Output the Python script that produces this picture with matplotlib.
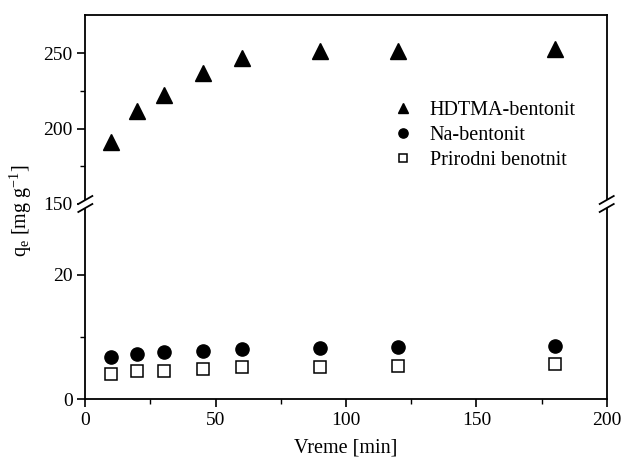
#!/usr/bin/env python3

# kinetika adsorpcije: qe u funkciji vremena, prekinuta y osa

import matplotlib
matplotlib.use('Agg')
import matplotlib.pyplot as plt
from matplotlib.lines import Line2D
from matplotlib.patches import Polygon

# data
vreme = [10, 20, 30, 45, 60, 90, 120, 180]
hdtma = [191, 211.5, 222, 237, 246.5, 251.5, 251.5, 253]
na_bent = [6.7, 7.25, 7.6, 7.75, 8.0, 8.3, 8.4, 8.6]
prirodni = [4.0, 4.5, 4.55, 4.8, 5.1, 5.1, 5.35, 5.6]

labels = ['HDTMA-bentonit', 'Na-bentonit', 'Prirodni benotnit']

plt.rcParams['font.family'] = ['Liberation Serif', 'DejaVu Serif']
plt.rcParams['mathtext.fontset'] = 'custom'
plt.rcParams['mathtext.rm'] = 'Liberation Serif'
plt.rcParams['mathtext.it'] = 'Liberation Serif'
plt.rcParams['font.size'] = 14

fig = plt.figure(figsize=(6.21, 4.63), dpi=100)

left, right = 0.1374, 0.977
bottom, brk, top = 0.1382, 0.5594, 0.9676

ax_lo = fig.add_axes([left, bottom, right - left, brk - bottom])
ax_hi = fig.add_axes([left, brk, right - left, top - brk])

# markers
h1, = ax_hi.plot(vreme, hdtma, '^', color='black', ms=11, ls='none')
h2, = ax_lo.plot(vreme, na_bent, 'o', color='black', ms=9.5, ls='none')
h3, = ax_lo.plot(vreme, prirodni, 's', mfc='white', mec='black', mew=1.1, ms=8, ls='none')

ax_lo.set_xlim(0, 200)
ax_hi.set_xlim(0, 200)
ax_lo.set_ylim(0, 31.45)
ax_hi.set_ylim(150, 275.2)

ax_lo.set_xticks([0, 50, 100, 150, 200])
ax_lo.set_xticks([25, 75, 125, 175], minor=True)
ax_lo.set_yticks([0, 20])
ax_lo.set_yticks([10], minor=True)
ax_hi.set_yticks([150, 200, 250])
ax_hi.set_yticks([175, 225], minor=True)
ax_hi.set_xticks([])

for ax in (ax_lo, ax_hi):
    for s in ax.spines.values():
        s.set_linewidth(1.3)
    ax.tick_params(which='major', direction='out', length=6, width=1.2, labelsize=14, pad=3)
    ax.tick_params(which='minor', direction='out', length=3.5, width=1.0)
    ax.tick_params(right=False, top=False)

ax_lo.spines['top'].set_visible(False)
ax_hi.spines['bottom'].set_visible(False)
ax_hi.tick_params(axis='x', which='both', bottom=False, labelbottom=False)

ax_lo.set_xlabel('Vreme [min]', fontsize=14.5, labelpad=7)
fig.text(0.034, 0.545, r'q$_\mathrm{e}$ [mg g$^{\mathrm{-1}}$]', rotation=90,
         ha='center', va='center', fontsize=14.5)

# legend
ax_hi.legend([h1, h2, h3], labels, loc='upper left', bbox_to_anchor=(0.57, 0.60),
             frameon=False, fontsize=14.5, handlelength=1.0, handletextpad=0.85,
             labelspacing=0.3, markerscale=0.7, borderpad=0)

# break marks on spines
W, H = fig.get_size_inches() * fig.dpi
dx, dy, gap = 7 / W, 4 / H, 4 / H
for xs in (left, right):
    fig.add_artist(Polygon([(xs - dx, brk - dy - gap), (xs + dx, brk + dy - gap),
                            (xs + dx, brk + dy + gap), (xs - dx, brk - dy + gap)],
                           closed=True, transform=fig.transFigure,
                           facecolor='white', edgecolor='none', zorder=10))
    for off in (-gap, gap):
        fig.add_artist(Line2D([xs - dx, xs + dx], [brk - dy + off, brk + dy + off],
                              transform=fig.transFigure, color='black', lw=1.3, zorder=11))

fig.savefig('out.png', dpi=100)
